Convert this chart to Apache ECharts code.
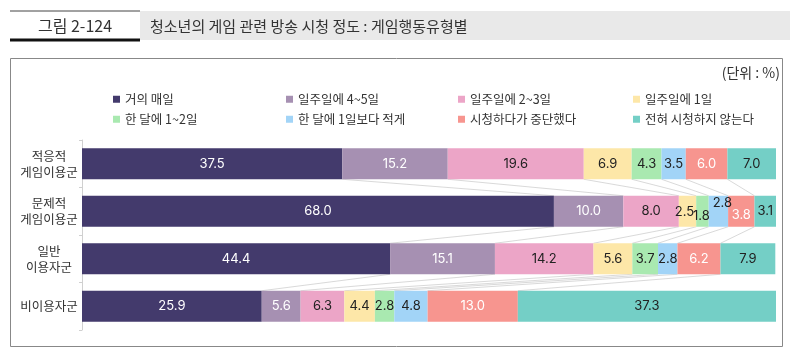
<!DOCTYPE html>
<html>
<head>
<meta charset="utf-8">
<script src="https://cdn.jsdelivr.net/npm/echarts@6/dist/echarts.min.js"></script>
<style>html,body{margin:0;padding:0;background:#fff}#c{width:800px;height:360px}</style>
</head>
<body>
<div id="c"></div>
<script>
var categories = ['적응적\n게임이용군', '문제적\n게임이용군', '일반\n이용자군', '비이용자군'];
var seriesNames = ['거의 매일', '일주일에 4~5일', '일주일에 2~3일', '일주일에 1일', '한 달에 1~2일', '한 달에 1일보다 적게', '시청하다가 중단했다', '전혀 시청하지 않는다'];
var s1 = [37.5, 68.0, 44.4, 25.9];
var s2 = [15.2, 10.0, 15.1, 5.6];
var s3 = [19.6, 8.0, 14.2, 6.3];
var s4 = [6.9, 2.5, 5.6, 4.4];
var s5 = [4.3, 1.8, 3.7, 2.8];
var s6 = [3.5, 2.8, 2.8, 4.8];
var s7 = [6.0, 3.8, 6.2, 13.0];
var s8 = [7.0, 3.1, 7.9, 37.3];
var allSeries = [s1, s2, s3, s4, s5, s6, s7, s8];

var colors = ['#433a6c', '#a690b2', '#eca5c7', '#fde7a8', '#a9e9b0', '#a2d4f7', '#f7958f', '#74cfc6'];
var labelColors = ['#fff', '#fff', '#222', '#222', '#222', '#222', '#fff', '#222'];
// label nudges for crowded segments: key "series,row"
var labelOffsets = {'3,1': [-3, 1], '4,1': [-1, 5], '5,1': [4, -8], '6,1': [0, 4]};

var BAR_H = 31;
var FONT = 'Inter, "Noto Sans", sans-serif';
var KFONT = '"Noto Sans CJK KR", sans-serif';

var cums = categories.map(function (c, r) {
  var acc = 0, arr = [0];
  allSeries.forEach(function (s) { acc += s[r]; arr.push(acc); });
  return arr;
});

var series = allSeries.map(function (s, si) {
  return {
    name: seriesNames[si],
    type: 'bar',
    stack: 'total',
    barWidth: BAR_H,
    itemStyle: { color: colors[si] },
    label: {
      show: true,
      position: 'inside',
      color: labelColors[si],
      fontFamily: FONT,
      fontSize: 13,
      formatter: function (p) { return p.value.toFixed(1); }
    },
    data: s.map(function (v, r) {
      var off = labelOffsets[si + ',' + r];
      return off ? { value: v, label: { offset: off } } : v;
    })
  };
});

series.push({
  type: 'custom',
  silent: true,
  z: 1,
  encode: { x: 0, y: 1 },
  data: [[0, 0], [0, 1], [0, 2]],
  renderItem: function (params, api) {
    var r = api.value(1);
    var children = [];
    for (var k = 1; k < 8; k++) {
      var p1 = api.coord([cums[r][k], r]);
      var p2 = api.coord([cums[r + 1][k], r + 1]);
      children.push({
        type: 'line',
        shape: { x1: p1[0], y1: p1[1] + BAR_H / 2, x2: p2[0], y2: p2[1] - BAR_H / 2 },
        style: { stroke: '#cfcfcf', lineWidth: 0.8 }
      });
    }
    return { type: 'group', children: children };
  }
});

var legendLefts = [113, 286, 458, 633];
var legends = seriesNames.map(function (n, i) {
  return {
    top: i < 4 ? 93 : 113, left: legendLefts[i % 4], padding: 0,
    itemWidth: 7, itemHeight: 7, icon: 'rect', itemGap: 0,
    textStyle: { fontFamily: KFONT, fontSize: 12.5, color: '#333' },
    data: [n]
  };
});

var chart = echarts.init(document.getElementById('c'), null, { renderer: 'canvas' });
chart.setOption({
  animation: false,
  color: colors,
  grid: { left: 82, right: 24, top: 140, height: 190 },
  legend: legends,
  xAxis: { type: 'value', min: 0, max: 100, show: false },
  yAxis: {
    type: 'category', inverse: true, data: categories,
    axisLine: { show: true, lineStyle: { color: '#d0d0d0' } },
    axisTick: { show: true, length: 3, lineStyle: { color: '#d0d0d0' } },
    axisLabel: { align: 'center', margin: 33, fontFamily: KFONT, fontSize: 12.5, color: '#333', lineHeight: 16 }
  },
  graphic: [
    { type: 'rect', shape: { x: 140, y: 11, width: 650, height: 29 }, style: { fill: '#e9e9e9' }, silent: true },
    { type: 'line', shape: { x1: 10, y1: 11, x2: 140, y2: 11 }, style: { stroke: '#444', lineWidth: 1 }, silent: true },
    { type: 'line', shape: { x1: 10, y1: 40, x2: 140, y2: 40 }, style: { stroke: '#111', lineWidth: 3 }, silent: true },
    { type: 'text', x: 75, y: 26, style: { text: '그림 2-124', font: '16px ' + KFONT, fill: '#333', textAlign: 'center', textVerticalAlign: 'middle' }, silent: true },
    { type: 'text', x: 150, y: 26, style: { text: '청소년의 게임 관련 방송 시청 정도 : 게임행동유형별', font: '15px ' + KFONT, fill: '#333', textAlign: 'left', textVerticalAlign: 'middle' }, silent: true },
    { type: 'rect', shape: { x: 10.5, y: 58.5, width: 772, height: 288 }, style: { fill: 'none', stroke: '#888', lineWidth: 1 }, silent: true },
    { type: 'text', x: 780, y: 73, style: { text: '(단위 : %)', font: '14px ' + KFONT, fill: '#333', textAlign: 'right', textVerticalAlign: 'middle' }, silent: true }
  ],
  series: series
});
</script>
</body>
</html>
